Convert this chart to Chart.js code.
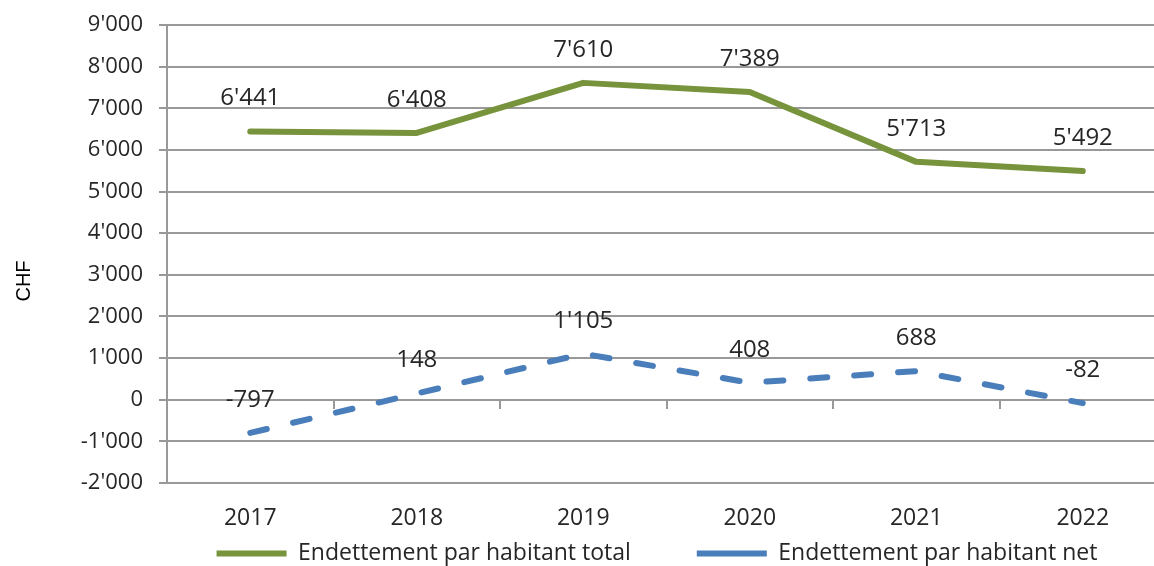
<!DOCTYPE html>
<html>
<head>
<meta charset="utf-8">
<script src="https://cdn.jsdelivr.net/npm/chart.js@4.4.0/dist/chart.umd.min.js"></script>
<style>
    html, body { margin: 0; padding: 0; background: #fff; overflow: hidden; }
    #chart-box { width: 1180px; height: 575px; }
</style>
</head>
<body>
<div id="chart-box"><canvas id="canvas"></canvas></div>
<script>
const years = ["2017", "2018", "2019", "2020", "2021", "2022"];
const totalPerHead = [6441, 6408, 7610, 7389, 5713, 5492];
const netPerHead = [-797, 148, 1105, 408, 688, -82];
const yTicks = [-2000, -1000, 0, 1000, 2000, 3000, 4000, 5000, 6000, 7000, 8000, 9000];

const textColor = '#262626';
const gridColor = '#999999';
const fontFamily = "'Open Sans', sans-serif";
const legendGap = 66;

// swiss style thousands: 6'441
const formatSwiss = (v) => {
    const sign = v < 0 ? '-' : '';
    return sign + String(Math.abs(Math.round(v))).replace(/\B(?=(\d{3})+(?!\d))/g, "'");
};

// value labels above every point
const valueLabels = {
    id: 'valueLabels',
    afterDatasetsDraw(chart) {
        const ctx = chart.ctx;
        ctx.save();
        ctx.font = "24px " + fontFamily;
        ctx.fillStyle = textColor;
        ctx.textAlign = 'center';
        ctx.textBaseline = 'middle';
        chart.data.datasets.forEach((ds, i) => {
            chart.getDatasetMeta(i).data.forEach((pt, j) => {
                ctx.fillText(formatSwiss(ds.data[j]), pt.x, pt.y - 33);
            });
        });
        ctx.restore();
    }
};

// axis title on the left + legend moved to where excel puts it
const extras = {
    id: 'extras',
    afterLayout(chart) {
        const lg = chart.legend;
        lg.left += 74;
        lg.right += 74;
        // big item padding pushes the text down, pull the box up again
        lg.top -= (legendGap - 10);
    },
    afterDraw(chart) {
        const ctx = chart.ctx;
        ctx.save();
        ctx.translate(24, 281);
        ctx.rotate(-Math.PI / 2);
        ctx.font = "20px 'Liberation Sans', Arial, sans-serif";
        ctx.fillStyle = '#000';
        ctx.textAlign = 'center';
        ctx.textBaseline = 'middle';
        ctx.fillText('CHF', 0, 0);
        ctx.restore();
    }
};

new Chart(document.getElementById('canvas'), {
    type: 'line',
    data: {
        labels: years,
        datasets: [{
            label: 'Endettement par habitant total',
            data: totalPerHead,
            borderColor: '#77933C',
            backgroundColor: '#77933C',
            borderWidth: 6,
            borderCapStyle: 'round',
            borderJoinStyle: 'round',
            pointRadius: 0,
            tension: 0
        }, {
            label: 'Endettement par habitant net',
            data: netPerHead,
            borderColor: '#4A7EBB',
            backgroundColor: '#4A7EBB',
            borderWidth: 6,
            borderDash: [17, 27],
            borderCapStyle: 'round',
            borderJoinStyle: 'round',
            pointRadius: 0,
            tension: 0
        }]
    },
    options: {
        responsive: true,
        maintainAspectRatio: false,
        animation: false,
        devicePixelRatio: 1,
        layout: { padding: { left: 0, right: 14, top: 25, bottom: 0 } },
        plugins: {
            tooltip: { enabled: false },
            legend: {
                position: 'bottom',
                maxHeight: 43,
                labels: {
                    usePointStyle: true,
                    pointStyle: 'line',
                    pointStyleWidth: 70,
                    padding: legendGap,
                    color: textColor,
                    font: { family: fontFamily, size: 23 }
                }
            }
        },
        scales: {
            x: {
                offset: true,
                grid: { display: false, drawTicks: false },
                border: { display: false },
                ticks: {
                    padding: 22,
                    color: textColor,
                    font: { family: fontFamily, size: 23 }
                },
                afterFit(scale) { scale.height = 49; }
            },
            x2: {
                type: 'category',
                position: { y: 0 },
                offset: true,
                grid: {
                    offset: true,
                    drawOnChartArea: false,
                    drawTicks: true,
                    tickLength: 8,
                    color: gridColor,
                    lineWidth: 2
                },
                border: { display: true, color: gridColor, width: 2 },
                ticks: { display: false }
            },
            y: {
                min: -2000,
                max: 9000,
                afterBuildTicks(scale) {
                    scale.ticks = yTicks.map(v => ({ value: v }));
                },
                afterFit(scale) {
                    scale.width = 167;
                    scale.paddingTop = 0;
                    scale.paddingBottom = 0;
                },
                grid: { color: gridColor, lineWidth: 2, tickLength: 8 },
                border: { display: true, color: gridColor, width: 2 },
                ticks: {
                    padding: 16,
                    color: textColor,
                    font: { family: fontFamily, size: 22 },
                    callback: (v) => formatSwiss(v)
                }
            }
        }
    },
    plugins: [valueLabels, extras]
});
</script>
</body>
</html>
